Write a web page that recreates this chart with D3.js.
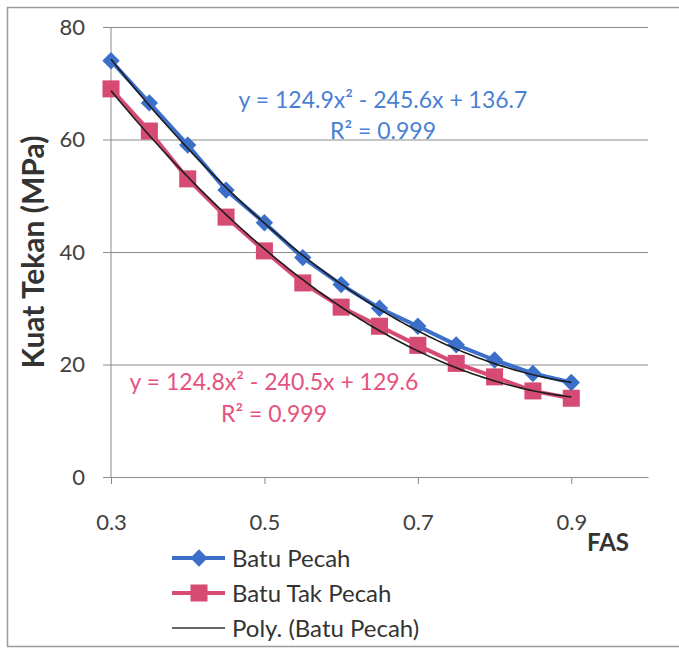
<!DOCTYPE html>
<html>
<head>
<meta charset="utf-8">
<script src="https://cdn.jsdelivr.net/npm/d3@7"></script>
<style>
  body { margin: 0; background: #fff; }
  svg text { font-family: Lato, "Open Sans", sans-serif; }
</style>
</head>
<body>
<svg id="chart" width="679" height="650"></svg>
<script>
// data
const fas = [0.3, 0.35, 0.4, 0.45, 0.5, 0.55, 0.6, 0.65, 0.7, 0.75, 0.8, 0.85, 0.9];
const batuPecah = [74, 66.5, 59, 51, 45.2, 39, 34.2, 30, 26.8, 23.5, 20.8, 18.4, 16.8];
const batuTakPecah = [69, 61.5, 53, 46.2, 40.2, 34.5, 30.2, 26.8, 23.4, 20.2, 17.8, 15.3, 14];
// trendline coefficients (a, b, c) as printed on the chart
const polyPecah = [124.9, -245.6, 136.7];
const polyTakPecah = [124.8, -240.5, 129.6];
const xTicks = [0.3, 0.5, 0.7, 0.9];
const yTicks = [0, 20, 40, 60, 80];
const legendLabels = ['Batu Pecah', 'Batu Tak Pecah', 'Poly. (Batu Pecah)'];

const blue = '#3b6fc9', pink = '#d64b74';

const svg = d3.select('#chart');

// outer frame
svg.append('rect')
  .attr('x', 7.5).attr('y', 7.5)
  .attr('width', 700).attr('height', 639)
  .attr('fill', 'none').attr('stroke', '#9a9a9a').attr('stroke-width', 1.5);

const margin = { top: 27, left: 111 };
const w = 537, h = 450;
const g = svg.append('g').attr('transform', `translate(${margin.left},${margin.top})`);

const x = d3.scaleLinear().domain([0.3, 1.0]).range([0, w]);
const y = d3.scaleLinear().domain([0, 80]).range([h, 0]);

// horizontal gridlines + y labels
const ya = g.append('g')
  .call(d3.axisLeft(y).tickValues(yTicks).tickSize(-w).tickPadding(26).tickSizeOuter(0));
ya.select('.domain').remove();
ya.selectAll('.tick line').attr('stroke', '#8a8a8a').attr('x1', -8).attr('x2', w);
ya.selectAll('text').attr('font-size', 22).attr('fill', '#404040');

// y axis line
g.append('line').attr('x1', 0).attr('x2', 0).attr('y1', 0).attr('y2', h)
  .attr('stroke', '#8a8a8a');

// x axis
const xa = g.append('g').attr('transform', `translate(0,${h})`)
  .call(d3.axisBottom(x).tickValues(xTicks).tickFormat(d3.format('.1f')).tickSize(7).tickPadding(30).tickSizeOuter(0));
xa.select('.domain').attr('stroke', '#8a8a8a');
xa.selectAll('.tick line').attr('stroke', '#8a8a8a');
xa.selectAll('text').attr('font-size', 22).attr('fill', '#404040');

// axis titles
svg.append('text')
  .attr('transform', 'translate(44,252) rotate(-90)')
  .attr('text-anchor', 'middle')
  .attr('font-size', 30).attr('font-weight', 'bold').attr('fill', '#333')
  .text('Kuat Tekan (MPa)');

svg.append('text')
  .attr('x', 608).attr('y', 551)
  .attr('text-anchor', 'middle')
  .attr('font-size', 24).attr('font-weight', 'bold').attr('fill', '#333')
  .text('FAS');

const line = d3.line().x(d => x(d[0])).y(d => y(d[1]));
const diamond = d3.symbol().type(d3.symbolSquare).size(150);
const square = d3.symbol().type(d3.symbolSquare).size(290);

function drawSeries(vals, color, sym, rot) {
  const pts = fas.map((f, i) => [f, vals[i]]);
  g.append('path').datum(pts)
    .attr('d', line).attr('fill', 'none')
    .attr('stroke', color).attr('stroke-width', 4);
  g.selectAll(null).data(pts).enter().append('path')
    .attr('transform', d => `translate(${x(d[0])},${y(d[1])}) rotate(${rot})`)
    .attr('d', sym)
    .attr('fill', color);
}

drawSeries(batuTakPecah, pink, square, 0);
drawSeries(batuPecah, blue, diamond, 45);

// poly trendlines on top
function drawTrend(coef) {
  const pts = d3.range(0, 121).map(i => {
    const f = 0.3 + i * 0.005;
    return [f, coef[0] * f * f + coef[1] * f + coef[2]];
  });
  g.append('path').datum(pts)
    .attr('d', line).attr('fill', 'none')
    .attr('stroke', '#1e1e1e').attr('stroke-width', 1.6);
}
drawTrend(polyPecah);
drawTrend(polyTakPecah);

// equations
function eq(coef, r2, cx, y1, y2, color) {
  svg.append('text').attr('x', cx).attr('y', y1)
    .attr('text-anchor', 'middle').attr('font-size', 23).attr('fill', color)
    .text(`y = ${coef[0]}x² - ${Math.abs(coef[1])}x + ${coef[2]}`);
  svg.append('text').attr('x', cx).attr('y', y2)
    .attr('text-anchor', 'middle').attr('font-size', 23).attr('fill', color)
    .text(`R² = ${r2}`);
}
eq(polyPecah, '0.999', 383, 108, 139, '#4a7fd6');
eq(polyTakPecah, '0.999', 274, 390, 422, '#e6527d');

// legend
const legendColors = [blue, pink, '#333'];
const leg = svg.append('g').attr('transform', 'translate(172,558)');
legendLabels.forEach((lab, i) => {
  const row = leg.append('g').attr('transform', `translate(0,${i * 35})`);
  row.append('line').attr('x1', 0).attr('x2', 53)
    .attr('stroke', legendColors[i]).attr('stroke-width', i < 2 ? 4 : 1.6);
  if (i === 0) row.append('path').attr('transform', 'translate(27,0) rotate(45)')
    .attr('d', diamond).attr('fill', blue);
  if (i === 1) row.append('path').attr('transform', 'translate(27,0)')
    .attr('d', square).attr('fill', pink);
  row.append('text').attr('x', 60).attr('y', 8.5)
    .attr('font-size', 24).attr('fill', '#333').text(lab);
});
</script>
</body>
</html>
